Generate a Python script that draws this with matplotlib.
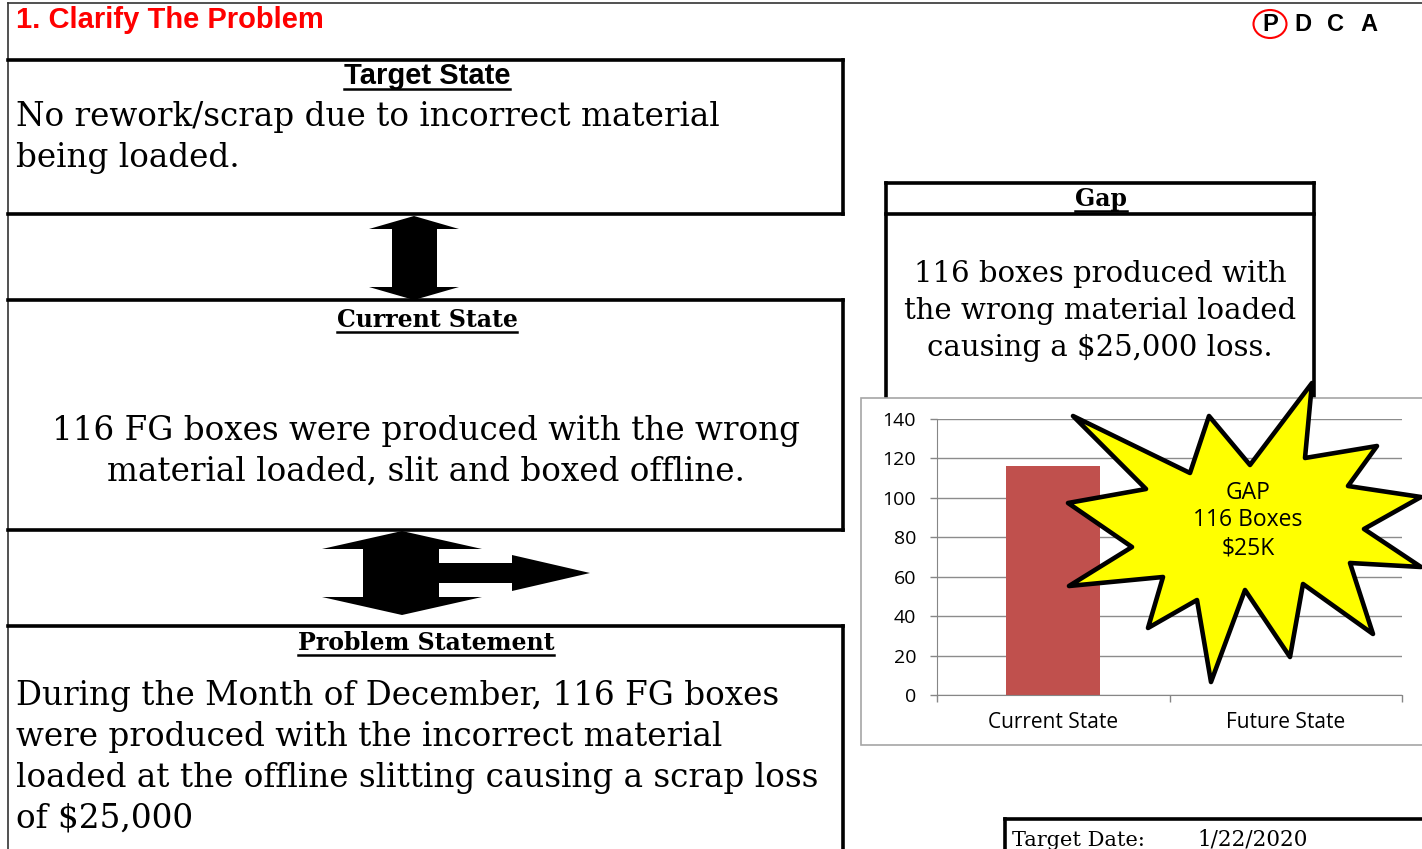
import matplotlib
matplotlib.use('Agg')
import matplotlib.pyplot as plt
from matplotlib.patches import Polygon, Rectangle, Ellipse

# chart data
categories = ['Current State', 'Future State']
boxes = [116, 0]
y_ticks = [0, 20, 40, 60, 80, 100, 120, 140]
bar_color = '#C0504D'

# slide text
title = '1. Clarify The Problem'
pdca = ['P', 'D', 'C', 'A']
target_lines = ['No rework/scrap due to incorrect material', 'being loaded.']
current_lines = ['116 FG boxes were produced with the wrong',
                 'material loaded, slit and boxed offline.']
problem_lines = ['During the Month of December, 116 FG boxes',
                 'were produced with the incorrect material',
                 'loaded at the offline slitting causing a scrap loss',
                 'of $25,000']
gap_lines = ['116 boxes produced with', 'the wrong material loaded',
             'causing a $25,000 loss.']
burst_lines = ['GAP', '116 Boxes', '$25K']
target_date = '1/22/2020'

W, H = 1422, 849
SERIF = 'DejaVu Serif'
SANS = 'Liberation Sans'
CHART_FONT = 'Open Sans'

fig = plt.figure(figsize=(W / 100, H / 100), dpi=100)
ax = fig.add_axes([0, 0, 1, 1])
ax.set_xlim(0, W)
ax.set_ylim(H, 0)
ax.axis('off')


def hline(y, x0, x1, lw=2.6, color='black'):
    ax.plot([x0, x1], [y, y], color=color, lw=lw, solid_capstyle='projecting')


def vline(x, y0, y1, lw=2.6, color='black'):
    ax.plot([x, x], [y0, y1], color=color, lw=lw, solid_capstyle='projecting')


# outer frame
hline(3, 8, W, lw=1.2, color='#333333')
vline(8, 3, H, lw=1.2, color='#333333')

ax.text(16, 28, title, color='#FF0000', fontsize=21, fontweight='bold',
        family=SANS, va='baseline', ha='left')

# PDCA marker
for i, letter in enumerate(pdca):
    ax.text(1270 + i * 33, 31, letter, fontsize=17, fontweight='bold',
            family=SANS, ha='center', va='baseline')
ax.add_patch(Ellipse((1270, 24), 33, 28, fill=False, edgecolor='#FF0000', lw=1.5))

# left boxes
hline(60, 8, 843)
vline(843, 60, 214)
hline(214, 8, 843)
hline(300, 8, 843)
vline(843, 300, 530)
hline(530, 8, 843)
hline(626, 8, 843)
vline(843, 626, H)

headings = []
headings.append(ax.text(427, 84, 'Target State', fontsize=21, fontweight='bold',
                        family=SANS, ha='center', va='baseline'))
headings.append(ax.text(427, 327, 'Current State', fontsize=17, fontweight='bold',
                        family=SERIF, ha='center', va='baseline'))
headings.append(ax.text(426, 650, 'Problem Statement', fontsize=17, fontweight='bold',
                        family=SERIF, ha='center', va='baseline'))
headings.append(ax.text(1101, 206, 'Gap', fontsize=17, fontweight='bold',
                        family=SERIF, ha='center', va='baseline'))

body = 23.5
for i, line in enumerate(target_lines):
    ax.text(16, 126 + i * 41, line, fontsize=body, family=SERIF, ha='left', va='baseline')
for i, line in enumerate(current_lines):
    ax.text(426, 440 + i * 41, line, fontsize=body, family=SERIF, ha='center', va='baseline')
for i, line in enumerate(problem_lines):
    ax.text(16, 705 + i * 41, line, fontsize=body, family=SERIF, ha='left', va='baseline')

# arrows between boxes
up_down = [(414, 216), (459, 229), (437, 229), (437, 287), (459, 287), (414, 300),
           (369, 287), (392, 287), (392, 229), (369, 229)]
ax.add_patch(Polygon(up_down, closed=True, facecolor='black', edgecolor='none'))
branch = [(402, 531), (482, 549), (439, 549), (439, 563), (512, 563), (512, 555),
          (590, 573), (512, 591), (512, 583), (439, 583), (439, 597), (482, 597),
          (402, 615), (322, 597), (363, 597), (363, 549), (322, 549)]
ax.add_patch(Polygon(branch, closed=True, facecolor='black', edgecolor='none'))

# gap box
hline(183, 886, 1314)
hline(214, 886, 1314)
vline(886, 183, 397)
vline(1314, 183, 397)
for i, line in enumerate(gap_lines):
    ax.text(1100, 282 + i * 37, line, fontsize=21, family=SERIF, ha='center', va='baseline')

# chart frame
ax.add_patch(Rectangle((861, 398), W - 861 + 5, 745 - 398, facecolor='white',
                       edgecolor='#A6A6A6', lw=1.2, zorder=3))

# target date box
hline(819, 1005, W)
vline(1005, 819, H)
ax.text(1012, 846, 'Target Date:', fontsize=15, family=SERIF, va='baseline')
ax.text(1197, 846, target_date, fontsize=15.5, family=SERIF, va='baseline')

# underline headings
fig.canvas.draw()
renderer = fig.canvas.get_renderer()
for t in headings:
    bb = t.get_window_extent(renderer)
    y = t.get_position()[1] + 5
    ax.plot([bb.x0, bb.x1], [y, y], color='black', lw=1.8)

# bar chart
cax = fig.add_axes([937 / W, 1 - 695 / H, (1402 - 937) / W, (695 - 419) / H])
x = range(len(categories))
cax.bar(x, boxes, width=0.405, color=bar_color, zorder=2)
cax.set_xlim(-0.5, len(categories) - 0.5)
cax.set_ylim(0, 140)
cax.set_yticks(y_ticks)
cax.set_yticklabels([str(v) for v in y_ticks], fontsize=14, family=CHART_FONT)
cax.set_xticks(list(x))
cax.set_xticklabels(categories, fontsize=15, family=CHART_FONT)
cax.set_xticks([-0.5, 0.5, 1.5], minor=True)
cax.tick_params(axis='x', which='major', length=0, pad=12)
cax.tick_params(axis='x', which='minor', length=5, color='#868686', width=1)
cax.tick_params(axis='y', length=5, color='#868686', width=1, pad=10)
cax.grid(axis='y', color='#8C8C8C', lw=1, zorder=0)
cax.set_axisbelow(True)
for side in ['top', 'right']:
    cax.spines[side].set_visible(False)
for side in ['left', 'bottom']:
    cax.spines[side].set_color('#868686')
cax.patch.set_alpha(0)

# starburst call-out
ov = fig.add_axes([0, 0, 1, 1], zorder=5)
ov.set_xlim(0, W)
ov.set_ylim(H, 0)
ov.axis('off')
burst = [(1073, 416), (1190, 473), (1209, 416), (1250, 465), (1312, 383), (1305, 458),
         (1377, 446), (1348, 486), (1421, 497), (1364, 529), (1421, 567), (1350, 563),
         (1373, 634), (1303, 584), (1290, 657), (1245, 590), (1211, 682), (1197, 600),
         (1148, 628), (1163, 577), (1069, 586), (1132, 547), (1068, 503), (1146, 489)]
ov.add_patch(Polygon(burst, closed=True, facecolor='#FFFF00', edgecolor='black',
                     lw=3.3, joinstyle='round'))
for i, line in enumerate(burst_lines):
    ov.text(1248, 493 + i * 27.5, line, fontsize=16.5, family=CHART_FONT,
            ha='center', va='center')

fig.savefig('out.png', dpi=100)
